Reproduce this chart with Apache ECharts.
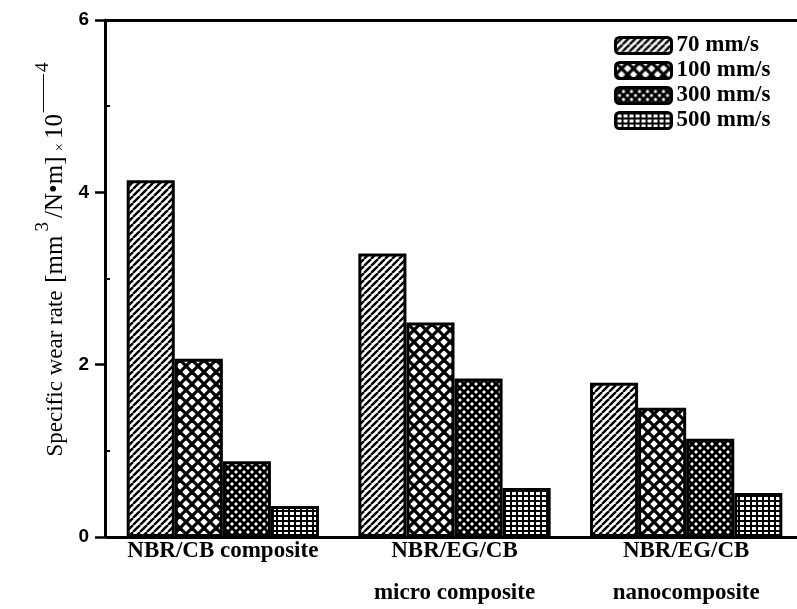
<!DOCTYPE html>
<html>
<head>
<meta charset="utf-8">
<script src="https://cdn.jsdelivr.net/npm/echarts@6/dist/echarts.min.js"></script>
<style>html,body{margin:0;padding:0;background:#fff}#c{width:797px;height:609px}</style>
</head>
<body>
<div id="c"></div>
<script>
const categories = ['NBR/CB composite', 'NBR/EG/CB\nmicro composite', 'NBR/EG/CB\nnanocomposite'];
const seriesNames = ['70 mm/s', '100 mm/s', '300 mm/s', '500 mm/s'];
const v70 = [4.14, 3.29, 1.79];
const v100 = [2.07, 2.49, 1.50];
const v300 = [0.88, 1.84, 1.14];
const v500 = [0.36, 0.57, 0.51];
const yTicks = [0, 2, 4, 6];
const yMinorTicks = [1, 3, 5];

function makePattern(kind) {
  const c = document.createElement('canvas');
  let w, h;
  if (kind === 'diag') { w = h = 7; }
  else if (kind === 'cross') { w = h = 12; }
  else if (kind === 'fine') { w = h = 8; }
  else { w = 6; h = 5; }
  c.width = w; c.height = h;
  const ctx = c.getContext('2d');
  ctx.fillStyle = '#fff';
  ctx.fillRect(0, 0, w, h);
  ctx.strokeStyle = '#000';
  if (kind === 'diag') {
    ctx.lineWidth = 2.4;
    for (let k = -1; k <= 1; k++) {
      ctx.beginPath(); ctx.moveTo(k * w, h); ctx.lineTo(k * w + w, 0); ctx.stroke();
    }
  } else if (kind === 'cross' || kind === 'fine') {
    ctx.lineWidth = kind === 'cross' ? 3.2 : 3.0;
    for (let k = -1; k <= 1; k++) {
      ctx.beginPath(); ctx.moveTo(k * w, h); ctx.lineTo(k * w + w, 0); ctx.stroke();
      ctx.beginPath(); ctx.moveTo(k * w, 0); ctx.lineTo(k * w + w, h); ctx.stroke();
    }
  } else {
    ctx.lineWidth = 2;
    ctx.beginPath(); ctx.moveTo(0, 1); ctx.lineTo(w, 1); ctx.stroke();
    ctx.beginPath(); ctx.moveTo(1, 0); ctx.lineTo(1, h); ctx.stroke();
  }
  return { image: c, repeat: 'repeat' };
}

const patterns = [makePattern('diag'), makePattern('cross'), makePattern('fine'), makePattern('grid')];
const values = [v70, v100, v300, v500];

const serif = '"Liberation Serif", "DejaVu Serif", serif';
const chart = echarts.init(document.getElementById('c'));
chart.setOption({
  animation: false,
  backgroundColor: '#fff',
  grid: { left: 107, right: -5, top: 20, bottom: 72, containLabel: false, outerBoundsMode: 'none' },
  legend: {
    orient: 'vertical',
    left: 609, top: 29,
    itemWidth: 56, itemHeight: 16, itemGap: 2,
    itemStyle: { borderColor: '#000', borderWidth: 3 },
    textStyle: { fontFamily: serif, fontWeight: 'bold', fontSize: 23, lineHeight: 22, color: '#000' },
    data: seriesNames
  },
  xAxis: [{
    type: 'category',
    data: categories,
    axisLine: { lineStyle: { color: '#000', width: 3 } },
    axisTick: { show: false },
    axisLabel: { color: '#000', fontFamily: serif, fontWeight: 'bold', fontSize: 23, lineHeight: 42, margin: -7, interval: 0 }
  }, {
    type: 'category',
    position: 'top',
    data: categories,
    axisLine: { show: true, onZero: false, lineStyle: { color: '#000', width: 3 } },
    axisTick: { show: false },
    axisLabel: { show: false }
  }],
  yAxis: [{
    type: 'value',
    min: 0, max: 6, interval: 2,
    offset: 2,
    splitLine: { show: false },
    axisLine: { show: true, lineStyle: { color: '#000', width: 3 } },
    axisTick: { show: true, length: 10, customValues: yTicks, lineStyle: { color: '#000', width: 2.5 } },
    axisLabel: { color: '#000', fontFamily: '"Liberation Sans", Arial, sans-serif', fontWeight: 'bold', fontSize: 19, margin: 16, customValues: yTicks },
    name: '{a|Specific wear rate }{c|[mm}{s|3}{c|/N•m]}{b|×}{c|10}{d|——}{s|4}',
    nameLocation: 'middle',
    nameGap: 36,
    nameTextStyle: {
      padding: [0, 0, 0, 40],
      rich: {
        a: { fontFamily: serif, fontSize: 23, color: '#000', lineHeight: 34, verticalAlign: 'bottom' },
        c: { fontFamily: serif, fontSize: 25, color: '#000', lineHeight: 34, verticalAlign: 'bottom', padding: [0, 2, 0, 2] },
        b: { fontFamily: serif, fontSize: 15, color: '#000', lineHeight: 34, verticalAlign: 'bottom', padding: [0, 2, 0, 3] },
        s: { fontFamily: serif, fontSize: 19, color: '#000', lineHeight: 34, verticalAlign: 'top', padding: [0, 2, 0, 2] },
        d: { fontFamily: serif, fontSize: 19, color: '#000', lineHeight: 34, verticalAlign: 'top' }
      }
    }
  }, {
    type: 'value',
    min: 0, max: 6, interval: 1,
    position: 'left',
    offset: 2,
    splitLine: { show: false },
    axisLine: { show: false },
    axisTick: { show: true, inside: true, length: 5, customValues: yMinorTicks, lineStyle: { color: '#000', width: 2 } },
    axisLabel: { show: false }
  }],
  series: seriesNames.map((n, i) => ({
    name: n,
    type: 'bar',
    data: values[i],
    barGap: '0%',
    barCategoryGap: '17%',
    itemStyle: { color: patterns[i], borderColor: '#000', borderWidth: 3 }
  }))
});
</script>
</body>
</html>
